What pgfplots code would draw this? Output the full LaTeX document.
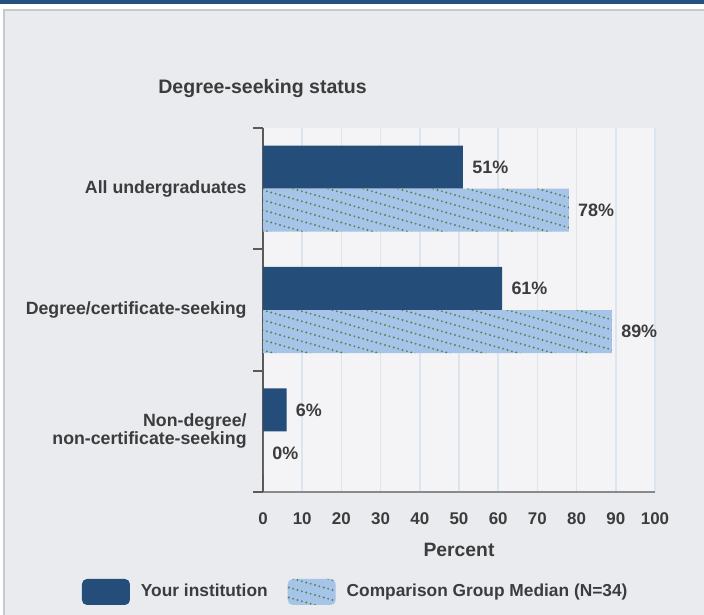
\documentclass[border=0pt]{standalone}
\usepackage{fontspec}
\setmainfont{Liberation Sans}
\usepackage{pgfplots}
\pgfplotsset{compat=1.18}
\usetikzlibrary{patterns}

\definecolor{topband}{HTML}{25507F}
\definecolor{panel}{HTML}{EAEBEF}
\definecolor{panelborder}{HTML}{C8C9CD}
\definecolor{plotbg}{HTML}{F4F4F6}
\definecolor{gridc}{HTML}{DCE4EE}
\definecolor{darkbar}{HTML}{244D7A}
\definecolor{hatchbg}{HTML}{A6C3E8}
\definecolor{dotgreen}{HTML}{4F8752}
\definecolor{textc}{HTML}{3C3C3C}
\definecolor{axisy}{HTML}{5A5A5A}
\definecolor{axisx}{HTML}{8A8A8A}

% dotted diagonal lines, falling to the right
\pgfdeclarepatternformonly{dotdiag}{\pgfpoint{-1bp}{-1bp}}{\pgfpoint{18.5bp}{6bp}}{\pgfpoint{17.5bp}{5bp}}{%
  \foreach \k in {0,...,7}{%
    \pgfpathcircle{\pgfpoint{17.5bp*\k/8}{5bp-5bp*\k/8}}{0.55bp}%
  }%
  \pgfusepath{fill}%
}

\begin{document}
\begin{tikzpicture}[font=\bfseries\fontsize{8.5}{10}\selectfont]
  % background
  \fill[white] (0,0) rectangle (352bp,307.5bp);
  \fill[topband] (0,305.5bp) rectangle (352bp,307.5bp);
  \fill[panel] (2bp,0) rectangle (352bp,302.5bp);
  \draw[panelborder, line width=0.6bp] (2bp,0) -- (2bp,302.5bp) -- (352bp,302.5bp);

  \node[anchor=west, text=textc, inner sep=0pt, font=\bfseries\fontsize{9.8}{11}\selectfont]
    at (79bp,263.5bp) {Degree-seeking status};

  \begin{axis}[
      at={(131.5bp,61.5bp)}, anchor=south west,
      scale only axis, width=196bp, height=182bp,
      xbar, bar width=21.5bp,
      xmin=0, xmax=100, ymin=-0.5, ymax=2.5,
      axis x line*=bottom, axis y line*=left,
      x axis line style={draw=axisx, line width=1bp},
      y axis line style={draw=axisy, line width=1bp},
      axis background/.style={fill=plotbg},
      xtick={0,10,...,100},
      ytick={0,1,2},
      yticklabels={{Non-degree/\\non-certificate-seeking},{Degree/certificate-seeking},{All undergraduates}},
      major tick length=0pt,
      extra y ticks={-0.5,0.5,1.5,2.5},
      extra y tick labels={},
      extra y tick style={major tick length=5bp, tick align=outside,
        tick style={draw=axisy, line width=1bp}, grid=none},
      xmajorgrids,
      major grid style={draw=gridc, line width=0.8bp},
      /pgf/number format/assume math mode=true,
      ticklabel style={text=textc},
      xticklabel style={inner sep=0pt, anchor=north, yshift=-10bp},
      yticklabel style={inner sep=0pt, align=right, xshift=-8bp,
        font=\bfseries\fontsize{8.9}{9}\selectfont},
      xlabel={Percent},
      xlabel style={at={(axis description cs:0.5,-0.1593)}, anchor=center, text=textc,
        font=\bfseries\fontsize{9.7}{11}\selectfont},
      point meta=x,
      nodes near coords={\pgfmathprintnumber{\pgfplotspointmeta}\%},
      every node near coord/.append style={anchor=west, inner sep=0pt, xshift=4.5bp, text=textc,
        font=\bfseries\fontsize{9}{10}\selectfont},
      legend image code/.code={%
        \fill[#1, draw=none, rounded corners=2.5bp] (0bp,-6.5bp) rectangle (24bp,6.5bp);
        \path (29.5bp,0bp);
      },
      legend columns=2,
      legend style={at={(axis description cs:0.234,-0.2747)}, anchor=center,
        draw=none, fill=none, inner sep=0pt,
        font=\bfseries\fontsize{8.7}{10}\selectfont,
        nodes={inner sep=0pt, text=textc},
        /tikz/every even column/.append style={column sep=10bp}},
    ]
    \addplot[draw=none, fill=darkbar, bar shift=10.75bp]
      coordinates {(51,2) (61,1) (6,0)};
    \addplot[draw=none, fill=hatchbg, postaction={pattern=dotdiag, pattern color=dotgreen}, bar shift=-10.75bp]
      coordinates {(78,2) (89,1) (0,0)};
    \legend{Your institution, Comparison Group Median (N=34)}
  \end{axis}

  \pgfresetboundingbox
  \path[use as bounding box] (0,0) rectangle (352bp,307.5bp);
\end{tikzpicture}
\end{document}
